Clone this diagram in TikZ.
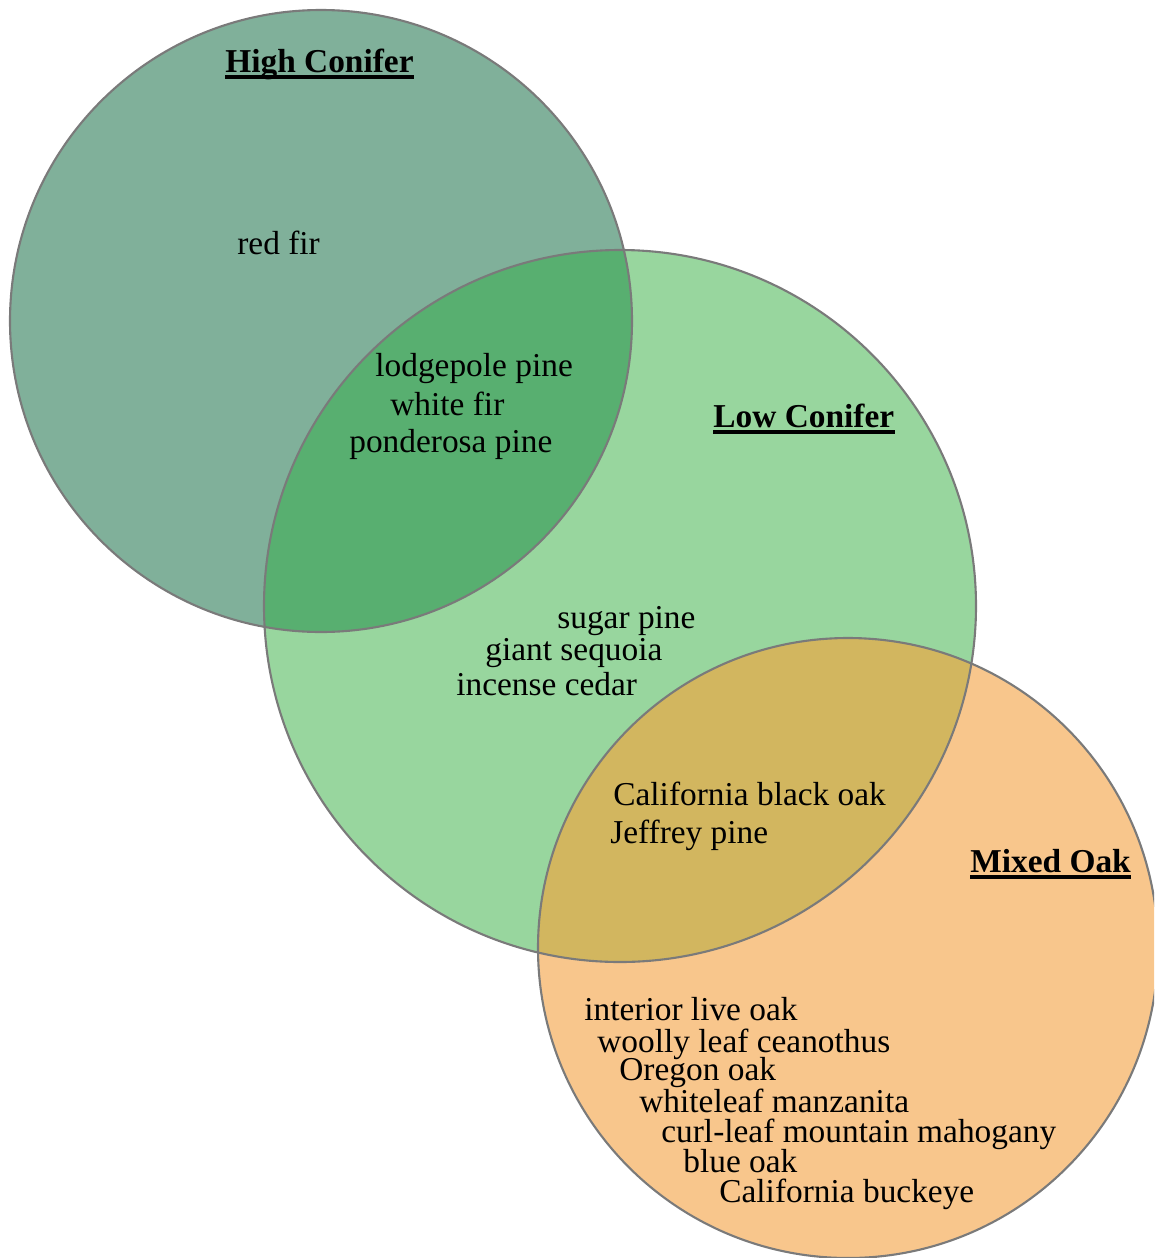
\documentclass[tikz,border=0pt]{standalone}
\usepackage{fontspec}
\setmainfont{Liberation Serif}

\definecolor{highfill}{HTML}{80B09A}
\definecolor{lowfill}{HTML}{98D69E}
\definecolor{highlowfill}{HTML}{58AF70}
\definecolor{oakfill}{HTML}{F8C68C}
\definecolor{lowoakfill}{HTML}{D2B65F}
\definecolor{ringgray}{HTML}{7A7A7A}

\begin{document}
\begin{tikzpicture}[%
      x=0.02cm, y=-0.02cm,
      ring/.style={draw=ringgray, line width=1.2pt},
      spec/.style={anchor=base west, inner sep=0pt, font=\fontsize{19}{22}\selectfont},
      head/.style={spec, font=\fontsize{19}{22}\selectfont\bfseries},
      uline/.style={line width=2pt},
      ]
      \clip (0,0) rectangle (1154,1258);

      % circles
      \fill [highfill] (321,321) circle (311);
      \fill [lowfill] (620,606) circle (356);
      \begin{scope}
        \clip (321,321) circle (311);
        \fill [highlowfill] (620,606) circle (356);
      \end{scope}
      \fill [oakfill] (848,948) circle (310);
      \begin{scope}
        \clip (620,606) circle (356);
        \fill [lowoakfill] (848,948) circle (310);
      \end{scope}
      \draw [ring] (321,321) circle (311);
      \draw [ring] (620,606) circle (356);
      \draw [ring] (848,948) circle (310);

      % headings
      \node [head] (high) at (225,72) {High Conifer};
      \node [head] (low) at (713,427) {Low Conifer};
      \node [head] (oak) at (970,872) {Mixed Oak};
      \draw [uline] ([yshift=-2.7pt]high.base west) -- ([yshift=-2.7pt]high.base east);
      \draw [uline] ([yshift=-2.7pt]low.base west) -- ([yshift=-2.7pt]low.base east);
      \draw [uline] ([yshift=-2.7pt]oak.base west) -- ([yshift=-2.7pt]oak.base east);

      \node [spec] (redfir) at (237,254) {red fir};

      \node [spec] (lodgepole) at (375,376) {lodgepole pine};
      \node [spec] (whitefir) at (390,415) {white fir};
      \node [spec] (ponderosa) at (349,452) {ponderosa pine};

      \node [spec] (sugar) at (557,628) {sugar pine};
      \node [spec] (sequoia) at (485,660) {giant sequoia};
      \node [spec] (cedar) at (456,695) {incense cedar};

      \node [spec] (blackoak) at (613,805) {California black oak};
      \node [spec] (jeffrey) at (610,843) {Jeffrey pine};

      \node [spec] (liveoak) at (584,1020) {interior live oak};
      \node [spec] (ceanothus) at (597,1052) {woolly leaf ceanothus};
      \node [spec] (oregon) at (619,1080) {Oregon oak};
      \node [spec] (manzanita) at (639,1112) {whiteleaf manzanita};
      \node [spec] (mahogany) at (661,1142) {curl-leaf mountain mahogany};
      \node [spec] (blueoak) at (683,1172) {blue oak};
      \node [spec] (buckeye) at (719,1202) {California buckeye};
\end{tikzpicture}
\end{document}
